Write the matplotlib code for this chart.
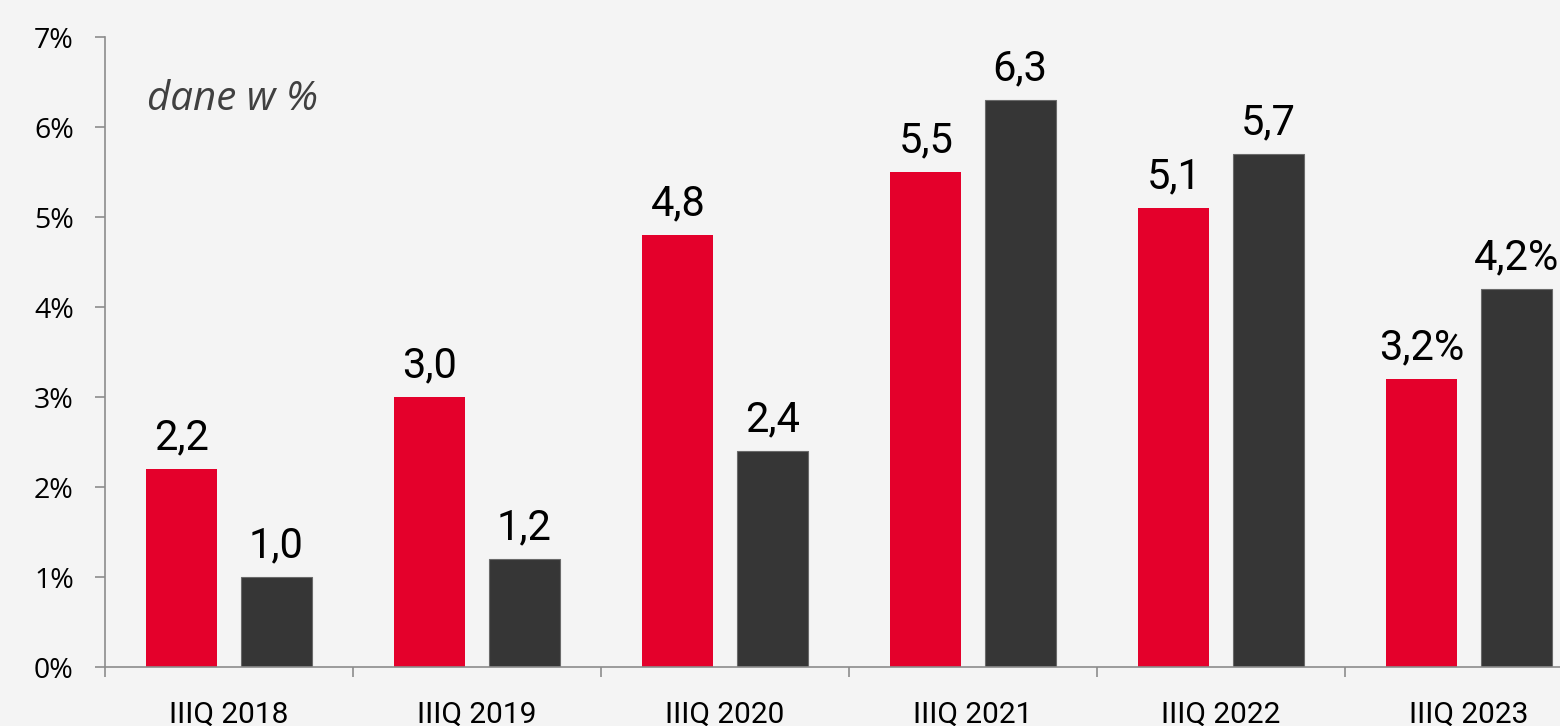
import matplotlib
matplotlib.use("Agg")
import matplotlib.pyplot as plt
import numpy as np

# data
categories = ["IIIQ 2018", "IIIQ 2019", "IIIQ 2020", "IIIQ 2021", "IIIQ 2022", "IIIQ 2023"]
series_red = [2.2, 3.0, 4.8, 5.5, 5.1, 3.2]
series_dark = [1.0, 1.2, 2.4, 6.3, 5.7, 4.2]
labels_red = ["2,2", "3,0", "4,8", "5,5", "5,1", "3,2%"]
labels_dark = ["1,0", "1,2", "2,4", "6,3", "5,7", "4,2%"]
y_ticks = [0, 1, 2, 3, 4, 5, 6, 7]

RED = "#e4002b"
DARK = "#363636"
BG = "#f4f4f4"
AXIS = "#8c8c8c"

fig = plt.figure(figsize=(15.6, 7.26), dpi=100, facecolor=BG)
# axes runs past the right edge of the picture, as in the reference
ax = fig.add_axes([105 / 1560, 1 - 667 / 726, 1488 / 1560, 630 / 726])
ax.set_facecolor(BG)

x = np.arange(len(categories))
w = 0.286
off = 0.19
bars_r = ax.bar(x - off, series_red, w, color=RED, zorder=2)
bars_d = ax.bar(x + off, series_dark, w, color=DARK, edgecolor="#6a6a6a", linewidth=0.8, zorder=2)

for bars, labs in ((bars_r, labels_red), (bars_d, labels_dark)):
    for b, lab in zip(bars, labs):
        ax.annotate(lab, (b.get_x() + b.get_width() / 2, b.get_height()),
                    xytext=(0, 14), textcoords="offset points",
                    ha="center", va="baseline", fontsize=30, family="Roboto", color="black")

ax.set_xlim(-0.5, 5.5)
ax.set_ylim(0, 7)

# y axis
ax.set_yticks(y_ticks)
ax.set_yticklabels([f"{v}%" for v in y_ticks], family="Open Sans", fontsize=20.5)
ax.tick_params(axis="y", direction="out", length=7.5, width=1.2, color=AXIS, pad=15)

# x axis: ticks on group boundaries, labels centred under groups
ax.set_xticks(np.arange(-0.5, 6, 1.0))
ax.set_xticklabels([])
ax.set_xticks(x, minor=True)
ax.set_xticklabels(categories, minor=True, family="Roboto", fontsize=21.5)
ax.tick_params(axis="x", which="major", direction="out", length=7.5, width=1.2, color=AXIS)
ax.tick_params(axis="x", which="minor", length=0, pad=24)

for s in ("top", "right"):
    ax.spines[s].set_visible(False)
for s in ("left", "bottom"):
    ax.spines[s].set_color(AXIS)
    ax.spines[s].set_linewidth(1.2)

ax.text(-0.33, 6.19, "dane w %", fontsize=29, style="italic", family="Open Sans",
        color="#404040", va="baseline", ha="left")

fig.savefig("out.png", dpi=100, facecolor=BG)
